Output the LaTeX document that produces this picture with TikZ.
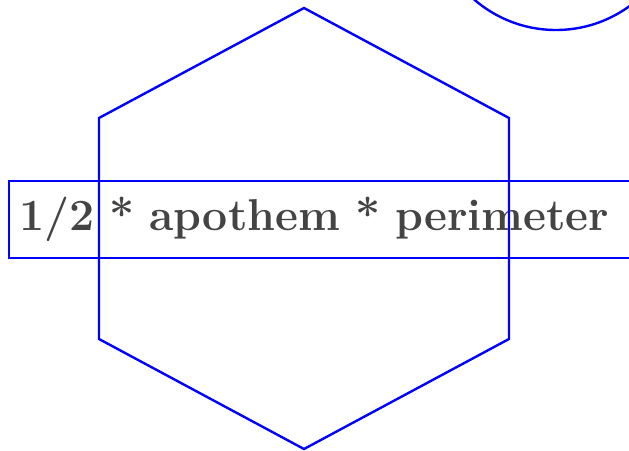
\documentclass[tikz,border=0pt]{standalone}
\usepackage{fontspec}
\definecolor{txtgray}{HTML}{444444}
\begin{document}
\begin{tikzpicture}[x=1pt,y=-1pt,
  shapeline/.style={draw=blue, line width=2.4pt},
  formula/.style={shapeline, text=txtgray, font=\fontsize{44.6}{54}\selectfont\bfseries,
    minimum width=640pt, minimum height=77pt, inner xsep=8.5pt, inner ysep=0pt,
    text width=620pt, align=left, anchor=north west}]
\useasboundingbox (0,0) rectangle (629,450);
\node[formula] (f) at (8,180) {\mbox{1/2 * apothem * perimeter}};
\node[shapeline, circle, minimum size=250pt, inner sep=0pt] (c) at (556,-95) {};
\coordinate (h1) at (304,8);
\coordinate (h2) at (509,118);
\coordinate (h3) at (509,339);
\coordinate (h4) at (304,449);
\coordinate (h5) at (99,339);
\coordinate (h6) at (99,118);
\draw[shapeline, line join=miter] (h1) -- (h2) -- (h3) -- (h4) -- (h5) -- (h6) -- cycle;
\end{tikzpicture}
\end{document}
